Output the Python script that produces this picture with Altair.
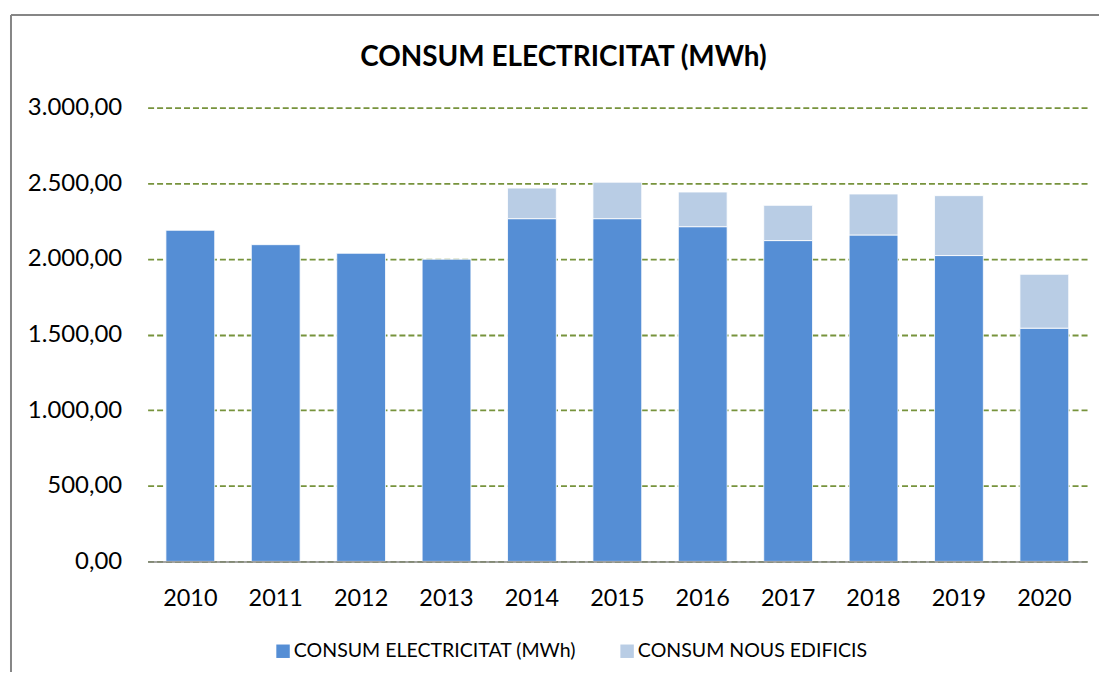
import altair as alt
import pandas as pd

title_text = "CONSUM ELECTRICITAT (MWh)"
years = [str(y) for y in range(2010, 2021)]
consum = [2189, 2094, 2037, 1998, 2266, 2266, 2213, 2121, 2158, 2022, 1542]
nous = [0, 0, 0, 0, 202, 241, 229, 233, 271, 396, 356]
series = ["CONSUM ELECTRICITAT (MWh)", "CONSUM NOUS EDIFICIS"]
colors = ["#558ED5", "#B9CDE5"]
y_ticks = [0, 500, 1000, 1500, 2000, 2500, 3000]

rows = []
for i, yr in enumerate(years):
    rows.append({"year": yr, "serie": series[0], "value": consum[i], "ord": 0})
    if nous[i] > 0:
        rows.append({"year": yr, "serie": series[1], "value": nous[i], "ord": 1})
df = pd.DataFrame(rows)

label_expr = ("replace(replace(replace(format(datum.value, ',.2f'), ',', '#'), '.', ','), '#', '.')")

bars = alt.Chart(df).mark_bar(stroke="white", strokeWidth=0.8).encode(
    x=alt.X(
        "year:N",
        sort=years,
        scale=alt.Scale(paddingInner=0.4286, paddingOuter=0.2143),
        axis=alt.Axis(
            title=None, labelAngle=0, ticks=False, grid=False,
            domainColor="#868686", domainWidth=1.5,
            labelFontSize=23.5, labelColor="black", labelPadding=25, zindex=1,
        ),
    ),
    y=alt.Y(
        "value:Q",
        stack="zero",
        scale=alt.Scale(domain=[0, 3000], nice=False),
        axis=alt.Axis(
            title=None, values=y_ticks, labelExpr=label_expr,
            domain=False, ticks=False, labelPadding=26,
            labelFontSize=24, labelColor="black",
            grid=True, gridColor="#77933C", gridDash=[6, 3], gridWidth=1.8,
        ),
    ),
    color=alt.Color(
        "serie:N",
        scale=alt.Scale(domain=series, range=colors),
        legend=alt.Legend(
            title=None, orient="none", legendX=126, legendY=535,
            direction="horizontal", symbolType="square", symbolSize=182,
            symbolStrokeWidth=0, labelFontSize=19.6, labelColor="black",
            labelLimit=500, columnPadding=41, labelOffset=1, padding=0,
        ),
    ),
    order=alt.Order("ord:Q", sort="ascending"),
)

one = pd.DataFrame({"a": [0]})
left_border = alt.Chart(one).mark_rule(color="#868686", strokeWidth=2).encode(
    x=alt.value(-137), y=alt.value(-93), y2=alt.value(600)
)
top_border = alt.Chart(one).mark_rule(color="#868686", strokeWidth=2).encode(
    x=alt.value(-137), x2=alt.value(1000), y=alt.value(-93)
)
title = alt.Chart(one).mark_text(
    font="Lato", fontWeight="bold", fontSize=28, align="center", baseline="middle", color="black"
).encode(x=alt.value(417), y=alt.value(-50), text=alt.value(title_text))

chart = alt.layer(left_border, top_border, bars, title).properties(
    width=942, height=455,
    autosize=alt.AutoSizeParams(type="none"),
    padding={"left": 140, "top": 99, "right": 12, "bottom": 110},
).configure(font="Lato").configure_view(stroke=None)

chart.save("out.html", embed_options={"renderer": "svg", "actions": False})
